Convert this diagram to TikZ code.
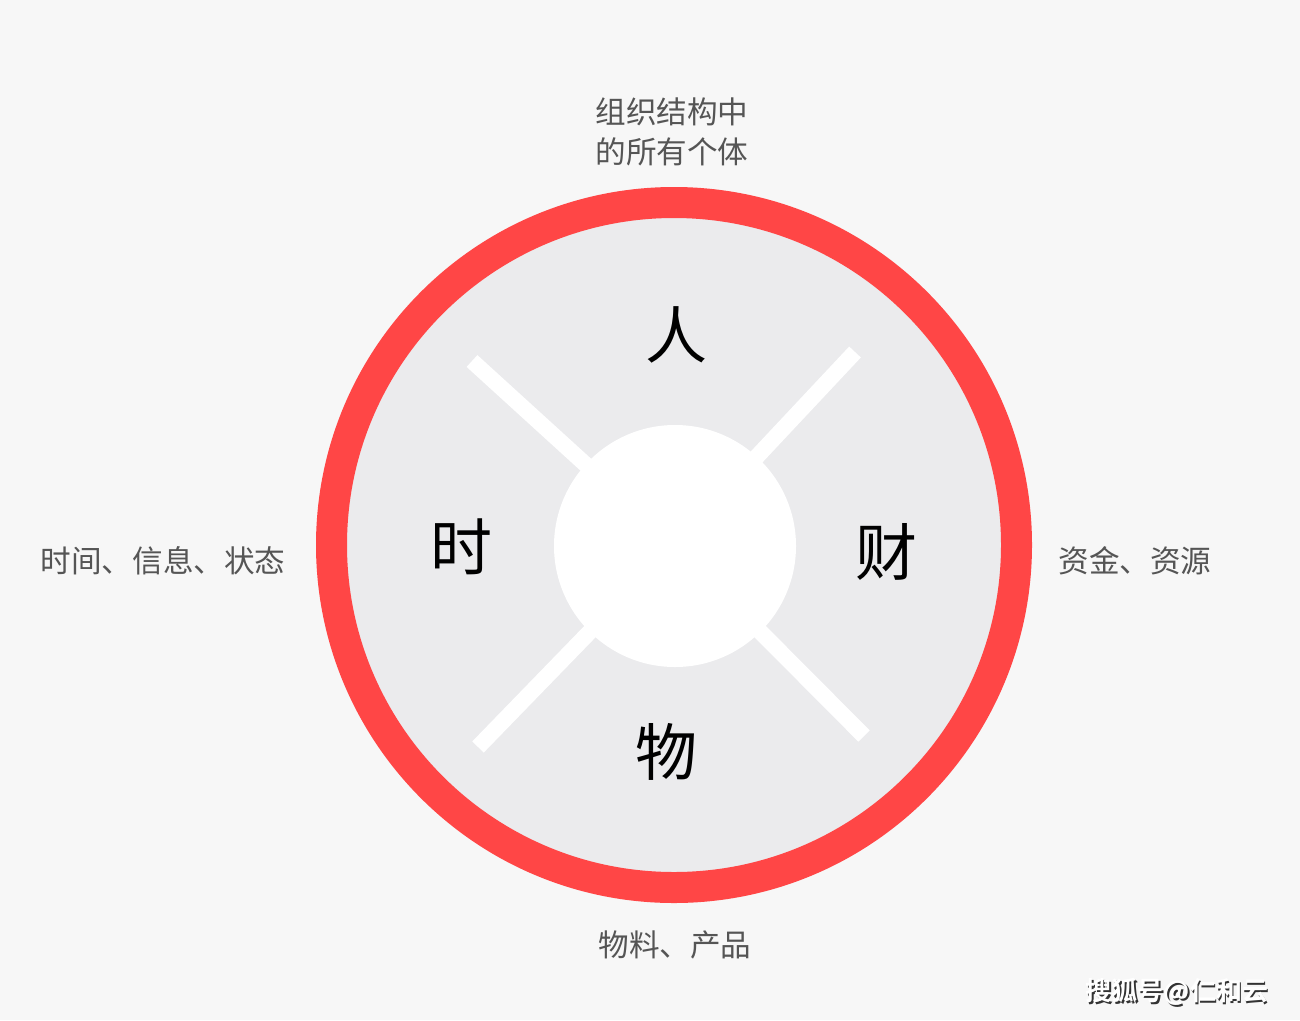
\documentclass[tikz,border=0pt]{standalone}
\usepackage{fontspec}
\setmainfont{Noto Sans CJK SC}
\newfontfamily\cjkbold{Noto Sans CJK SC Bold}
\definecolor{bgc}{HTML}{F7F7F7}
\definecolor{diskc}{HTML}{EBEBED}
\definecolor{ringc}{HTML}{FF4646}
\definecolor{labc}{HTML}{555555}
\tikzset{
  big/.style={inner sep=0pt, text=black, font=\fontsize{62bp}{62bp}\selectfont},
  lab/.style={inner sep=0pt, text=labc, font=\fontsize{30.6bp}{40bp}\selectfont, align=center},
  spoke/.style={white, line width=16bp},
}
\begin{document}
\begin{tikzpicture}[x=1bp,y=-1bp]
\fill[bgc] (0,0) rectangle (1300,1020);
\useasboundingbox (0,0) rectangle (1300,1020);
\coordinate (c) at (674,545);
\fill[diskc] (c) circle[radius=332];
\draw[ringc, line width=31bp] (c) circle[radius=342.5];
\coordinate (s1) at (472,361);
\coordinate (s2) at (855,352);
\coordinate (s3) at (478,747);
\coordinate (s4) at (864,736);
\draw[spoke] (s1) -- (c);
\draw[spoke] (s2) -- (c);
\draw[spoke] (s3) -- (c);
\draw[spoke] (s4) -- (c);
\fill[white] (675,546) circle[radius=121];
\node[big] (ren) at (676,335) {人};
\node[big] (shi) at (461,547) {时};
\node[big] (cai) at (886,552) {财};
\node[big] (wu) at (666,752) {物};
\node[lab] (top) at (672,132) {组织结构中\\的所有个体};
\node[lab] (left) at (163,561) {时间、信息、状态};
\node[lab] (right) at (1135,561) {资金、资源};
\node[lab] (bottom) at (675,945) {物料、产品};
\node[inner sep=0pt, text=black!80, font=\cjkbold\fontsize{26bp}{26bp}\selectfont] (wms) at (1178.5,993.5) {搜狐号@仁和云};
\node[inner sep=0pt, text=white, font=\cjkbold\fontsize{26bp}{26bp}\selectfont] (wm) at (1177,992) {搜狐号@仁和云};
\end{tikzpicture}
\end{document}
